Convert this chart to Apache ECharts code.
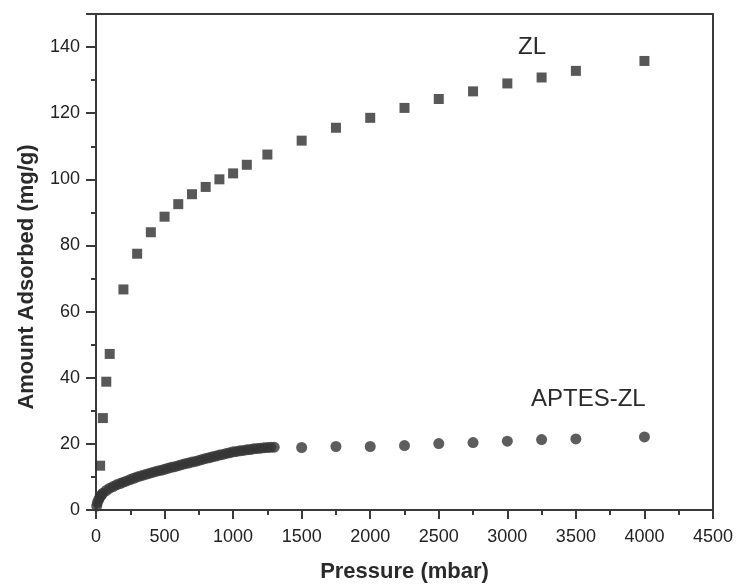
<!DOCTYPE html>
<html>
<head>
<meta charset="utf-8">
<script src="https://cdn.jsdelivr.net/npm/echarts@6/dist/echarts.min.js"></script>
<style>
html,body{margin:0;padding:0;background:#fff;}
#chart{width:738px;height:588px;}
</style>
</head>
<body>
<div id="chart"></div>
<script>
// ZL (squares): pressure (mbar), amount adsorbed (mg/g)
const zlPressure = [30, 50, 75, 100, 200, 300, 400, 500, 600, 700, 800, 900, 1000, 1100, 1250, 1500, 1750, 2000, 2250, 2500, 2750, 3000, 3250, 3500, 4000];
const zlAmount   = [13.4, 27.8, 38.8, 47.2, 66.7, 77.5, 84.0, 88.7, 92.5, 95.5, 97.7, 100.0, 101.8, 104.4, 107.5, 111.7, 115.6, 118.6, 121.6, 124.3, 126.6, 129.0, 130.8, 132.8, 135.8];

// APTES-ZL (circles): dense low-pressure part and sparse high-pressure part
const aptesPressure = [5, 10, 20, 30, 40, 50, 75, 100, 125, 150, 175, 200, 225, 250, 275, 300, 325, 350, 375, 400, 425, 450, 475, 500, 525, 550, 575, 600, 625, 650, 675, 700, 725, 750, 775, 800, 825, 850, 875, 900, 925, 950, 975, 1000, 1025, 1050, 1075, 1100, 1125, 1150, 1175, 1200, 1225, 1250, 1275, 1300,
  1500, 1750, 2000, 2250, 2500, 2750, 3000, 3250, 3500, 4000];
const aptesAmount = [1.2, 2.2, 3.2, 4.0, 4.6, 5.1, 5.9, 6.6, 7.1, 7.6, 8.0, 8.4, 8.8, 9.2, 9.6, 10.0, 10.3, 10.6, 10.9, 11.2, 11.5, 11.8, 12.0, 12.3, 12.6, 12.9, 13.1, 13.4, 13.7, 14.0, 14.2, 14.5, 14.7, 15.0, 15.3, 15.6, 15.8, 16.1, 16.3, 16.6, 16.8, 17.1, 17.3, 17.6, 17.7, 17.9, 18.0, 18.2, 18.3, 18.5, 18.6, 18.7, 18.8, 18.9, 18.95, 19.0,
  18.9, 19.2, 19.2, 19.5, 20.1, 20.4, 20.8, 21.3, 21.5, 22.1];

const xTicks = [0, 500, 1000, 1500, 2000, 2500, 3000, 3500, 4000, 4500];
const yTicks = [0, 20, 40, 60, 80, 100, 120, 140];

const seriesLabels = ['ZL', 'APTES-ZL'];

const chart = echarts.init(document.getElementById('chart'));
const font = 'Liberation Sans, Arial, sans-serif';
const zlData = zlPressure.map((p, i) => [p, zlAmount[i]]);
const aptesData = aptesPressure.map((p, i) => [p, aptesAmount[i]]);

chart.setOption({
  animation: false,
  backgroundColor: '#fff',
  grid: {left: 96, right: 25, top: 14, bottom: 76, show: true, borderColor: '#3a3a3a', borderWidth: 2, backgroundColor: 'transparent'},
  xAxis: {
    type: 'value', min: xTicks[0], max: xTicks[xTicks.length - 1], interval: 500,
    name: 'Pressure (mbar)', nameLocation: 'middle', nameGap: 51,
    nameTextStyle: {fontFamily: font, fontSize: 22, fontWeight: 'bold', color: '#2a2a2a'},
    axisLine: {lineStyle: {color: '#3a3a3a', width: 2}},
    axisTick: {show: true, inside: false, length: 9, lineStyle: {color: '#3a3a3a', width: 2}},
    minorTick: {show: true, splitNumber: 2, length: 5, lineStyle: {color: '#3a3a3a', width: 2}},
    axisLabel: {fontFamily: font, fontSize: 18, color: '#222', margin: 18,
      formatter: v => (xTicks.indexOf(v) >= 0 ? String(v) : '')},
    splitLine: {show: false}
  },
  yAxis: {
    type: 'value', min: 0, max: 150, interval: 20,
    name: 'Amount Adsorbed (mg/g)', nameLocation: 'middle', nameGap: 58, nameRotate: 90,
    nameTextStyle: {fontFamily: font, fontSize: 22, fontWeight: 'bold', color: '#2a2a2a', padding: [0, 30, 0, 0]},
    axisLine: {lineStyle: {color: '#3a3a3a', width: 2}},
    axisTick: {show: true, inside: false, length: 10, lineStyle: {color: '#3a3a3a', width: 2}},
    minorTick: {show: true, splitNumber: 2, length: 5, lineStyle: {color: '#3a3a3a', width: 2}},
    axisLabel: {fontFamily: font, fontSize: 18, color: '#222', margin: 16, showMaxLabel: false,
      formatter: v => (yTicks.indexOf(v) >= 0 ? String(v) : '')},
    splitLine: {show: false}
  },
  series: [
    {name: seriesLabels[0], type: 'scatter', symbol: 'rect', symbolSize: 10, data: zlData,
     itemStyle: {color: '#2e2e2e'}},
    {name: seriesLabels[1], type: 'scatter', symbol: 'circle', symbolSize: 11, data: aptesData,
     itemStyle: {color: '#353535'}}
  ],
  graphic: [
    {type: 'text', left: 518, top: 35, style: {text: seriesLabels[0], font: '24px ' + font, fill: '#2a2a2a'}},
    {type: 'text', left: 531, top: 387, style: {text: seriesLabels[1], font: '24px ' + font, fill: '#2a2a2a'}}
  ]
});
</script>
</body>
</html>
